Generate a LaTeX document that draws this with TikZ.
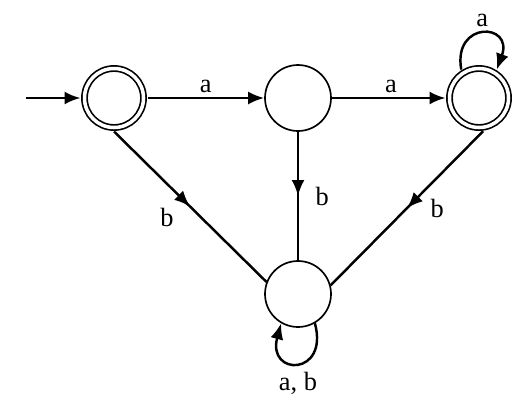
\documentclass[tikz,border=0pt]{standalone}
\usepackage{fontspec}
\setmainfont{Liberation Serif}
\usetikzlibrary{arrows.meta,decorations.markings,positioning}

\tikzset{
  stnode/.style={draw, circle, line width=0.95pt, minimum size=1.32cm, inner sep=0pt},
  acc/.style={stnode, double, double distance=2pt, minimum size=1.18cm, outer sep=0.08cm},
  edg/.style={line width=1.4pt},
  endarr/.style={edg, -{Latex[length=3.2mm,width=2.6mm]}},
  midarr/.style={edg, decoration={markings,
      mark=at position 0.5 with {\arrow{Latex[length=3.2mm,width=2.6mm]}}},
      postaction={decorate}},
  lbl/.style={font=\fontsize{15}{18}\selectfont}
}

\begin{document}
\begin{tikzpicture}
		%%%%% START %%%%%
		\useasboundingbox (0, 0) rectangle (10.46, 8.1);
		
		\node[acc] (q0) at (2.28, 6.14) {};
		\node[stnode] (q1) at (5.96, 6.14) {};
		\node[acc] (q2) at (9.58, 6.14) {};
		\node[stnode] (q3) at (5.96, 2.22) {};
		\coordinate (start) at (0.52, 6.14);
		
		\draw[endarr] (start) -- (q0);
		\draw[endarr] (q0) -- node[lbl, above=-1pt] (la1) {a} (q1);
		\draw[endarr] (q1) -- node[lbl, above=-1pt, pos=0.52] (la2) {a} (q2);
		
		\draw[midarr] (q0.south) -- node[lbl, below left=-3pt and 5.5pt] (lb1) {b} (q3.159);
		\draw[midarr] (q1) -- node[lbl, right=6pt] (lb2) {b} (q3);
		\draw[midarr] (q2.277) -- node[lbl, right=9.5pt] (lb3) {b} (q3.15);
		
		\draw[endarr] (q2.122) .. controls +(100:1.0) and +(70:1.0) .. node[lbl, above=0pt] (la3) {a} (q2.58);
		\draw[endarr] (q3.300) .. controls +(285:1.1) and +(255:1.1) .. node[lbl, below=1pt] (lab) {a, b} (q3.240);
		%%%%% END %%%%%
	\end{tikzpicture}
\end{document}
